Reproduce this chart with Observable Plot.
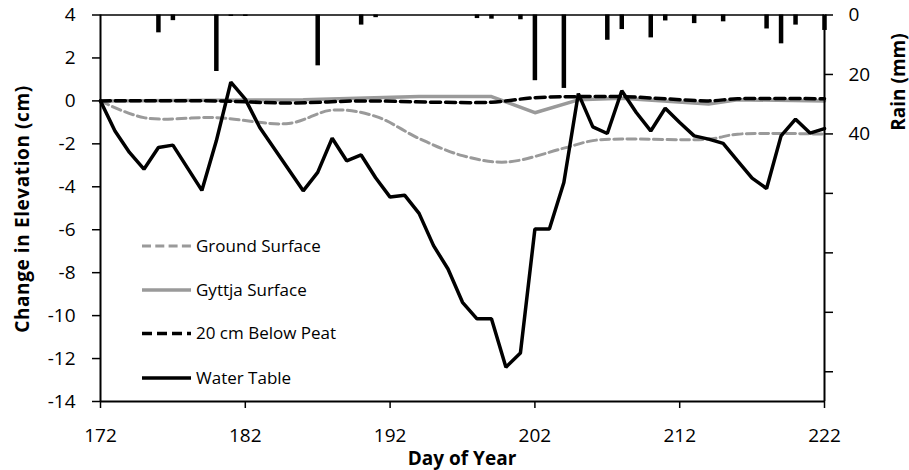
<!DOCTYPE html>
<html>
<head>
<meta charset="utf-8">
<script src="https://cdn.jsdelivr.net/npm/d3@7"></script>
<script src="https://cdn.jsdelivr.net/npm/@observablehq/plot@0.6"></script>
<style>
  html, body { margin: 0; padding: 0; background: white; }
  #chart { width: 909px; height: 470px; }
</style>
</head>
<body>
<div id="chart"></div>
<script>
// ---------- data ----------
const waterDays  = [172,173,174,175,176,177,179,180,181,182,183,186,187,188,189,190,191,192,193,194,195,196,197,198,199,200,201,202,203,204,205,206,207,208,209,210,211,212,213,214,215,216,217,218,219,220,221,222];
const waterTable = [0,-1.4,-2.4,-3.18,-2.17,-2.06,-4.17,-1.86,0.87,0.08,-1.24,-4.19,-3.33,-1.74,-2.79,-2.52,-3.58,-4.48,-4.39,-5.24,-6.74,-7.83,-9.38,-10.15,-10.15,-12.4,-11.74,-5.97,-5.97,-3.8,0.34,-1.21,-1.52,0.47,-0.54,-1.4,-0.34,-1.01,-1.63,-1.78,-1.98,-2.79,-3.6,-4.08,-1.63,-0.85,-1.5,-1.29];

const groundDays    = [172,175,180,185,188,191,194,197,200,204,206,208,214,216,222];
const groundSurface = [0,-0.78,-0.78,-1.05,-0.43,-0.72,-1.75,-2.55,-2.85,-2.2,-1.85,-1.78,-1.78,-1.55,-1.55];

const gyttjaDays    = [172,186,194,199,202,205,208,214,216,222];
const gyttjaSurface = [0,0.05,0.2,0.2,-0.55,0.05,0.12,-0.15,0.05,0];

const peatDays = [172,180,185,190,195,199,202,205,208,211,214,216,222];
const peat20cm = [0,0,-0.1,0,-0.06,-0.06,0.15,0.2,0.2,0.1,0,0.1,0.1];

const rainDays = [176,177,180,181,182,187,190,191,198,199,201,202,204,207,208,210,211,213,215,218,219,220,222];
const rainMm   = [6.0,1.9,19.0,0.5,0.5,17.1,3.4,0.9,1.2,1.4,1.6,22.1,24.7,8.5,4.9,7.7,2.0,2.9,2.3,4.7,9.7,3.4,5.2];

const xTicks    = [172,182,192,202,212,222];
const yTicks    = [-14,-12,-10,-8,-6,-4,-2,0,2,4];
const rainTicks = [0,20,40,60,80,100,120];
const rainLabels = [0,20,40];

const seriesNames = ["Ground Surface","Gyttja Surface","20 cm Below Peat","Water Table"];

// ---------- build tables ----------
const zip = (xs, ys) => xs.map((d, i) => ({day: d, v: ys[i]}));
const water  = zip(waterDays, waterTable);
const ground = zip(groundDays, groundSurface);
const gyttja = zip(gyttjaDays, gyttjaSurface);
const peat   = zip(peatDays, peat20cm);
const rain   = rainDays.map((d, i) => ({day: d, mm: rainMm[i]}));

// secondary (rain) axis: 0 mm at top of the elevation axis, 130 mm at bottom
const yTop = 4, yBottom = -14, rainMax = 130;
const K = (yTop - yBottom) / rainMax;
const rainToY = mm => yTop - mm * K;

const FONT = "'Open Sans', 'Liberation Sans', sans-serif";

const chart = Plot.plot({
  width: 909,
  height: 470,
  marginLeft: 100,
  marginRight: 85,
  marginTop: 14.5,
  marginBottom: 69,
  x: {domain: [172, 222]},
  y: {domain: [yBottom, yTop]},
  style: {fontFamily: FONT, fontSize: "19px", color: "black", background: "white", overflow: "visible"},
  marks: [
    Plot.ruleX(rain, {x: "day", y1: yTop, y2: d => rainToY(d.mm), stroke: "black", strokeWidth: 4.5}),
    Plot.line(ground, {x: "day", y: "v", stroke: "#9a9a9a", strokeWidth: 3, strokeDasharray: "9,4.3", curve: "catmull-rom"}),
    Plot.line(gyttja, {x: "day", y: "v", stroke: "#9a9a9a", strokeWidth: 3.5}),
    Plot.line(peat, {x: "day", y: "v", stroke: "black", strokeWidth: 3.5, strokeDasharray: "10,5", curve: "catmull-rom"}),
    Plot.line(water, {x: "day", y: "v", stroke: "black", strokeWidth: 3.5, strokeLinejoin: "miter"}),
    Plot.axisX({ticks: xTicks, tickSize: 7, tickPadding: 20, label: null, tickFormat: d => String(d), strokeWidth: 1.5}),
    Plot.axisY({ticks: yTicks, tickSize: 8, tickPadding: 17, label: null, tickFormat: d => String(d), strokeWidth: 1.5}),
    Plot.axisY({anchor: "right", ticks: rainTicks.map(rainToY), tickSize: 8, label: null, tickFormat: () => "", strokeWidth: 1.5}),
    Plot.text(rainLabels, {x: 222, y: rainToY, text: d => String(d), textAnchor: "start", dx: 24, fontSize: 19}),
    Plot.ruleX([172], {strokeWidth: 2}),
    Plot.ruleX([222], {strokeWidth: 2}),
    Plot.ruleY([yBottom], {strokeWidth: 2}),
    Plot.ruleY([yTop], {strokeWidth: 1.5})
  ]
});

document.getElementById("chart").appendChild(chart);
const svg = d3.select(chart);

// ---------- legend & axis titles ----------
const legend = svg.append("g").attr("font-family", FONT).attr("font-size", 17).attr("text-anchor", "start");
const legendStyles = [
  {stroke: "#9a9a9a", dash: "9,4.3", w: 3},
  {stroke: "#9a9a9a", dash: null, w: 3.5},
  {stroke: "black", dash: "10,5", w: 3.5},
  {stroke: "black", dash: null, w: 3.5}
];
const legendY = [246, 290, 333.5, 378];
seriesNames.forEach((name, i) => {
  const s = legendStyles[i];
  legend.append("line")
    .attr("x1", 142).attr("x2", 191).attr("y1", legendY[i]).attr("y2", legendY[i])
    .attr("stroke", s.stroke).attr("stroke-width", s.w)
    .attr("stroke-dasharray", s.dash);
  legend.append("text")
    .attr("x", 196).attr("y", legendY[i]).attr("dy", "0.35em")
    .attr("text-anchor", "start")
    .attr("fill", "black").text(name);
});

const titles = svg.append("g").attr("font-family", FONT).attr("font-weight", "bold").attr("font-size", 19).attr("fill", "black");
titles.append("text").attr("x", 462).attr("y", 458).attr("dy", "0.35em").attr("text-anchor", "middle").text("Day of Year");
titles.append("text").attr("transform", "translate(22,209) rotate(-90)").attr("dy", "0.35em").attr("text-anchor", "middle")
  .attr("letter-spacing", "0.6px").text("Change in Elevation (cm)");
titles.append("text").attr("transform", "translate(898,82) rotate(-90)").attr("dy", "0.35em").attr("text-anchor", "middle").text("Rain (mm)");
</script>
</body>
</html>
